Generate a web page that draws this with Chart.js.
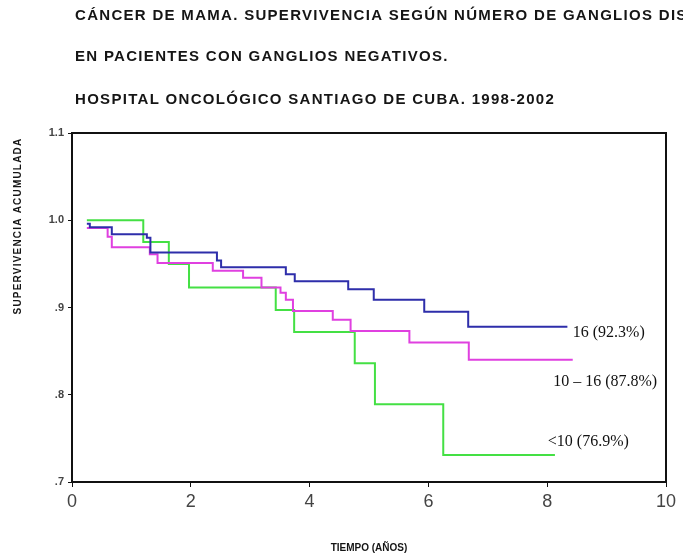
<!DOCTYPE html>
<html>
<head>
<meta charset="utf-8">
<script src="https://cdn.jsdelivr.net/npm/chart.js@4.4.0/dist/chart.umd.min.js"></script>
<style>
  html, body { margin: 0; padding: 0; background: #ffffff; }
  #wrap { width: 683px; height: 556px; position: relative; }
</style>
</head>
<body>
<div id="wrap"><canvas id="c" width="683" height="556"></canvas></div>
<script>
// ---- Data ----
const titleLines = [
  "CÁNCER DE MAMA. SUPERVIVENCIA SEGÚN NÚMERO DE GANGLIOS DIS",
  "EN PACIENTES CON GANGLIOS NEGATIVOS.",
  "HOSPITAL ONCOLÓGICO SANTIAGO DE CUBA. 1998-2002"
];
const yAxisTitle = "SUPERVIVENCIA ACUMULADA";
const xAxisTitle = "TIEMPO (AÑOS)";
const xTickValues = [0, 2, 4, 6, 8, 10];
const yTickValues = [0.7, 0.8, 0.9, 1.0, 1.1];
const yTickLabels = [".7", ".8", ".9", "1.0", "1.1"];

const seriesNames = ["16 (92.3%)", "10 – 16 (87.8%)", "<10 (76.9%)"];

// series "16" (blue)
const timesBlue  = [0.25, 0.30, 0.67, 1.26, 1.32, 2.44, 2.51, 3.60, 3.75, 4.65, 5.08, 5.93, 6.67, 8.34];
const survBlue   = [0.996, 0.992, 0.984, 0.980, 0.963, 0.954, 0.946, 0.938, 0.930, 0.921, 0.909, 0.895, 0.878, 0.878];

// series "10 – 16" (magenta)
const timesPink  = [0.25, 0.60, 0.67, 1.31, 1.44, 2.37, 2.88, 3.19, 3.51, 3.60, 3.72, 4.39, 4.69, 5.68, 6.68, 8.43];
const survPink   = [0.991, 0.981, 0.969, 0.961, 0.951, 0.942, 0.934, 0.923, 0.917, 0.909, 0.896, 0.886, 0.873, 0.860, 0.840, 0.840];

// series "<10" (green)
const timesGreen = [0.25, 1.20, 1.63, 1.97, 3.43, 3.74, 4.76, 5.10, 6.25, 8.13];
const survGreen  = [1.000, 0.975, 0.950, 0.923, 0.897, 0.872, 0.836, 0.789, 0.731, 0.731];

// label anchor (data coordinates) for each curve annotation
const labelX = [8.43, 8.10, 8.01];
const labelY = [0.871, 0.815, 0.746];

// ---- Build ----
const pts = (t, s) => t.map((x, i) => ({ x: x, y: s[i] }));
const colors = ["#2e2eaa", "#e040e0", "#44e044"];

const decor = {
  id: "decor",
  afterDraw(chart) {
    const ctx = chart.ctx;
    const a = chart.chartArea;
    const xs = chart.scales.x, ys = chart.scales.y;
    ctx.save();
    // frame
    ctx.strokeStyle = "#111";
    ctx.lineWidth = 2;
    ctx.strokeRect(a.left, a.top, a.right - a.left, a.bottom - a.top);
    // titles
    ctx.fillStyle = "#151515";
    ctx.font = "bold 15px 'Liberation Sans', Arial, sans-serif";
    ctx.letterSpacing = "1.3px";
    ctx.textAlign = "left";
    ctx.textBaseline = "middle";
    const ty = [16, 57, 100];
    titleLines.forEach((l, i) => ctx.fillText(l, 75, ty[i]));
    ctx.letterSpacing = "0px";
    // x title
    ctx.font = "bold 10px 'Liberation Sans', Arial, sans-serif";
    ctx.textAlign = "center";
    ctx.fillText(xAxisTitle, (a.left + a.right) / 2, 548);
    // y title
    ctx.save();
    ctx.translate(18, 226);
    ctx.rotate(-Math.PI / 2);
    ctx.font = "bold 10px 'Liberation Sans', Arial, sans-serif";
    ctx.letterSpacing = "1.2px";
    ctx.fillText(yAxisTitle, 0, 0);
    ctx.restore();
    // curve annotations
    ctx.font = "16px 'Liberation Serif', 'Times New Roman', serif";
    ctx.textAlign = "left";
    ctx.fillStyle = "#111";
    seriesNames.forEach((n, i) => {
      ctx.fillText(n, xs.getPixelForValue(labelX[i]), ys.getPixelForValue(labelY[i]));
    });
    ctx.restore();
  }
};

const fixX = s => { s.height = 556 - 482; };
const fixY = s => { s.width = 72; };

new Chart(document.getElementById("c"), {
  type: "line",
  data: {
    datasets: [
      { label: seriesNames[0], data: pts(timesBlue, survBlue), borderColor: colors[0] },
      { label: seriesNames[1], data: pts(timesPink, survPink), borderColor: colors[1] },
      { label: seriesNames[2], data: pts(timesGreen, survGreen), borderColor: colors[2] }
    ].map(d => Object.assign(d, {
      stepped: "before", borderWidth: 2, pointRadius: 0, fill: false, tension: 0
    }))
  },
  options: {
    responsive: false,
    animation: false,
    layout: { padding: { top: 133, right: 17, left: 0, bottom: 0 } },
    plugins: { legend: { display: false }, title: { display: false }, tooltip: { enabled: false } },
    scales: {
      x: {
        type: "linear", min: 0, max: 10,
        afterFit: fixX,
        afterBuildTicks: s => { s.ticks = xTickValues.map(v => ({ value: v })); },
        ticks: { color: "#444", font: { family: "'Liberation Sans', Arial, sans-serif", size: 18 }, padding: 4, maxRotation: 0 },
        grid: { drawOnChartArea: false, drawTicks: true, tickLength: 5, color: "#111" },
        border: { display: true, color: "#111", width: 2 }
      },
      y: {
        type: "linear", min: 0.7, max: 1.1,
        afterFit: fixY,
        afterBuildTicks: s => { s.ticks = yTickValues.map(v => ({ value: v })); },
        ticks: {
          color: "#444",
          font: { family: "'Liberation Sans', Arial, sans-serif", size: 11, weight: "bold" },
          padding: 4,
          callback: (v) => { const i = yTickValues.findIndex(t => Math.abs(t - v) < 1e-6); return i >= 0 ? yTickLabels[i] : ""; }
        },
        grid: { drawOnChartArea: false, drawTicks: true, tickLength: 4, color: "#111" },
        border: { display: true, color: "#111", width: 2 }
      }
    }
  },
  plugins: [decor]
});
</script>
</body>
</html>
